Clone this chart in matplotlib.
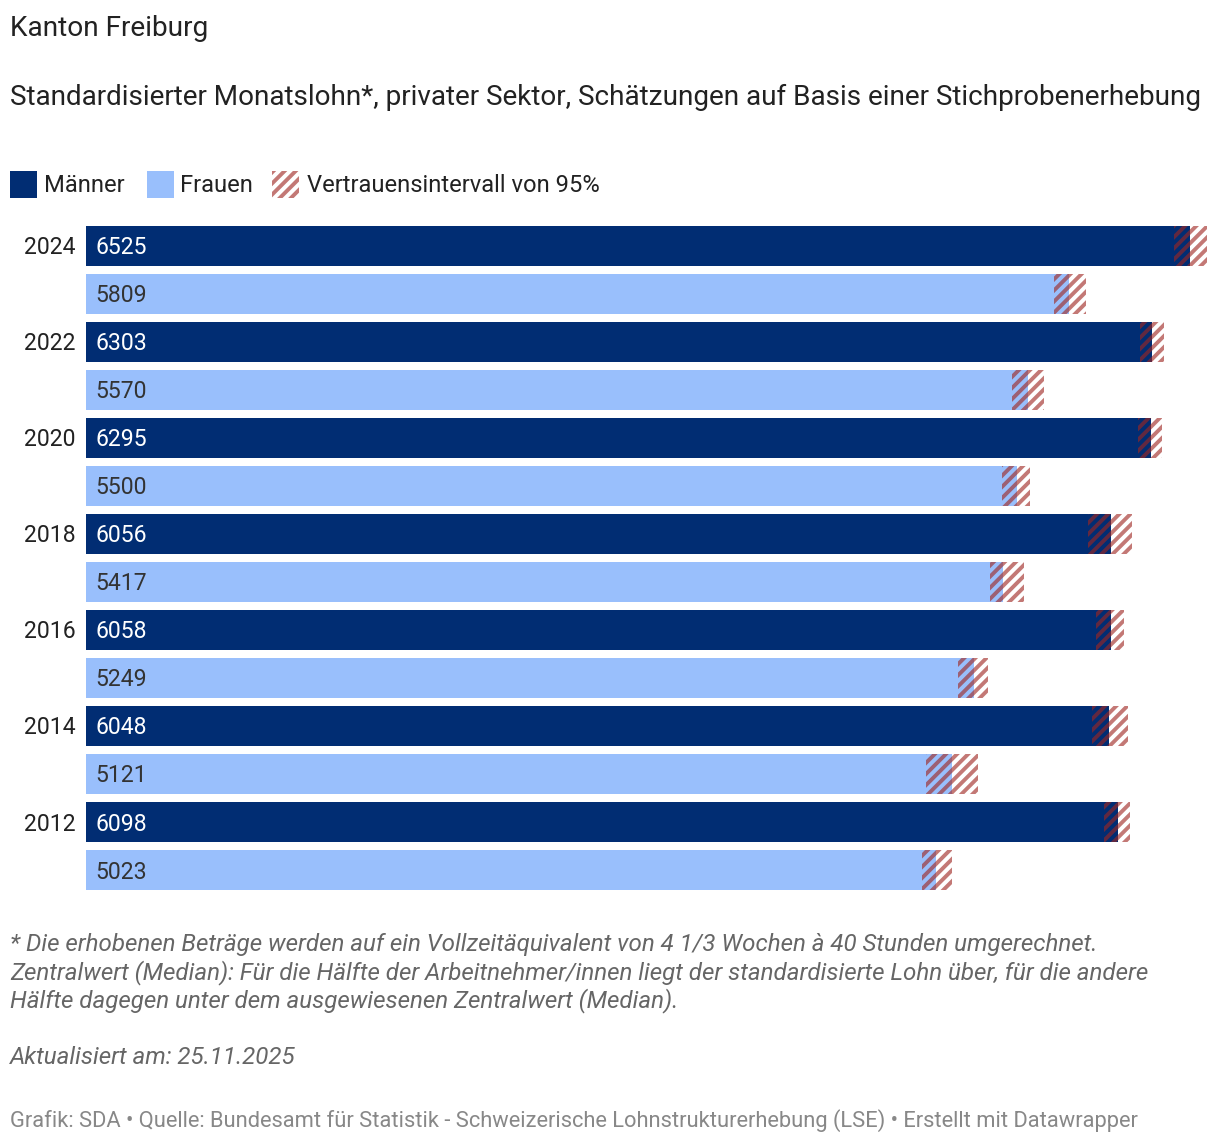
import matplotlib
matplotlib.use("Agg")
import matplotlib.pyplot as plt
from matplotlib.patches import Rectangle
import numpy as np

plt.rcParams['font.family'] = ['Roboto', 'DejaVu Sans']
plt.rcParams['hatch.linewidth'] = 2.8

years = [2024, 2022, 2020, 2018, 2016, 2014, 2012]
men = [6525, 6303, 6295, 6056, 6058, 6048, 6098]
women = [5809, 5570, 5500, 5417, 5249, 5121, 5023]
men_lo = [6430, 6229, 6217, 5922, 5969, 5946, 6017]
men_hi = [6623, 6371, 6359, 6182, 6135, 6158, 6170]
women_lo = [5721, 5473, 5414, 5343, 5154, 4965, 4941]
women_hi = [5908, 5662, 5579, 5544, 5331, 5272, 5118]

title = "Kanton Freiburg"
subtitle = "Standardisierter Monatslohn*, privater Sektor, Schätzungen auf Basis einer Stichprobenerhebung"
legend_labels = ["Männer", "Frauen", "Vertrauensintervall von 95%"]
notes = ["* Die erhobenen Beträge werden auf ein Vollzeitäquivalent von 4 1/3 Wochen à 40 Stunden umgerechnet.",
         "Zentralwert (Median): Für die Hälfte der Arbeitnehmer/innen liegt der standardisierte Lohn über, für die andere",
         "Hälfte dagegen unter dem ausgewiesenen Zentralwert (Median)."]
updated = "Aktualisiert am: 25.11.2025"
footer = "Grafik: SDA • Quelle: Bundesamt für Statistik - Schweizerische Lohnstrukturerhebung (LSE) • Erstellt mit Datawrapper"

NAVY = '#012d73'
LIGHT = '#99bffc'
HATCH = (0.62, 0.15, 0.13, 0.62)

W, H = 1220, 1144
fig = plt.figure(figsize=(W / 100, H / 100), dpi=100)

def fx(px):
    return px / W

def fy(py):
    return 1 - py / H

def pt(px):
    return px * 0.72

scale = 0.1692  # px per unit
ax_left, ax_right = 86, 1212
ax_top, ax_bot = 226, 890
ax = fig.add_axes([fx(ax_left), fy(ax_bot), (ax_right - ax_left) / W, (ax_bot - ax_top) / H])
ax.set_xlim(0, (ax_right - ax_left) / scale)

n = len(years)
vals, los, his, cols, tcols = [], [], [], [], []
for i in range(n):
    vals += [men[i], women[i]]
    los += [men_lo[i], women_lo[i]]
    his += [men_hi[i], women_hi[i]]
    cols += [NAVY, LIGHT]
    tcols += ['white', '#333333']

ypos = np.arange(2 * n)
bh = 40 / 48
ax.set_ylim(2 * n - 1 + bh / 2, -bh / 2)
ax.barh(ypos, vals, height=bh, color=cols, linewidth=0)
ax.barh(ypos, np.array(his) - np.array(los), left=los, height=bh,
        facecolor='none', edgecolor=HATCH, hatch='///', linewidth=0)

dy = 2 / 48  # small downward nudge in row units
for y, v, tc in zip(ypos, vals, tcols):
    ax.text(55, y + dy, f"{v}", color=tc, fontsize=pt(23), va='center', ha='left')

for i, yr in enumerate(years):
    ax.text(-60, 2 * i + dy, str(yr), color='#222222', fontsize=pt(23), va='center', ha='right')

ax.axis('off')

# Titles
fig.text(fx(10), fy(29), title, fontsize=pt(28), color='#222222', va='center', ha='left')
fig.text(fx(10), fy(97), subtitle, fontsize=pt(27.9), color='#222222', va='center', ha='left')

# Legend
sw_y0, sw_h = 171, 27
legend_x = [(10, 44), (147, 180), (272, 307)]
for k, (sx, tx) in enumerate(legend_x):
    if k == 0:
        r = Rectangle((fx(sx), fy(sw_y0 + sw_h)), sw_h / W, sw_h / H, transform=fig.transFigure,
                      facecolor=NAVY, linewidth=0)
    elif k == 1:
        r = Rectangle((fx(sx), fy(sw_y0 + sw_h)), sw_h / W, sw_h / H, transform=fig.transFigure,
                      facecolor=LIGHT, linewidth=0)
    else:
        r = Rectangle((fx(sx), fy(sw_y0 + sw_h)), sw_h / W, sw_h / H, transform=fig.transFigure,
                      facecolor='none', edgecolor=HATCH, hatch='///', linewidth=0)
    fig.add_artist(r)
    fig.text(fx(tx), fy(186), legend_labels[k], fontsize=pt(23.8), color='#222222', va='center', ha='left')

# Notes
for j, line in enumerate(notes):
    fig.text(fx(10), fy(945 + 28 * j), line, fontsize=pt(24.1), color='#666666', style='italic',
             va='center', ha='left')
fig.text(fx(10), fy(1057), updated, fontsize=pt(24.1), color='#666666', style='italic', va='center', ha='left')
fig.text(fx(10), fy(1121), footer, fontsize=pt(21.9), color='#888888', va='center', ha='left')

fig.savefig('out.png', dpi=100)
